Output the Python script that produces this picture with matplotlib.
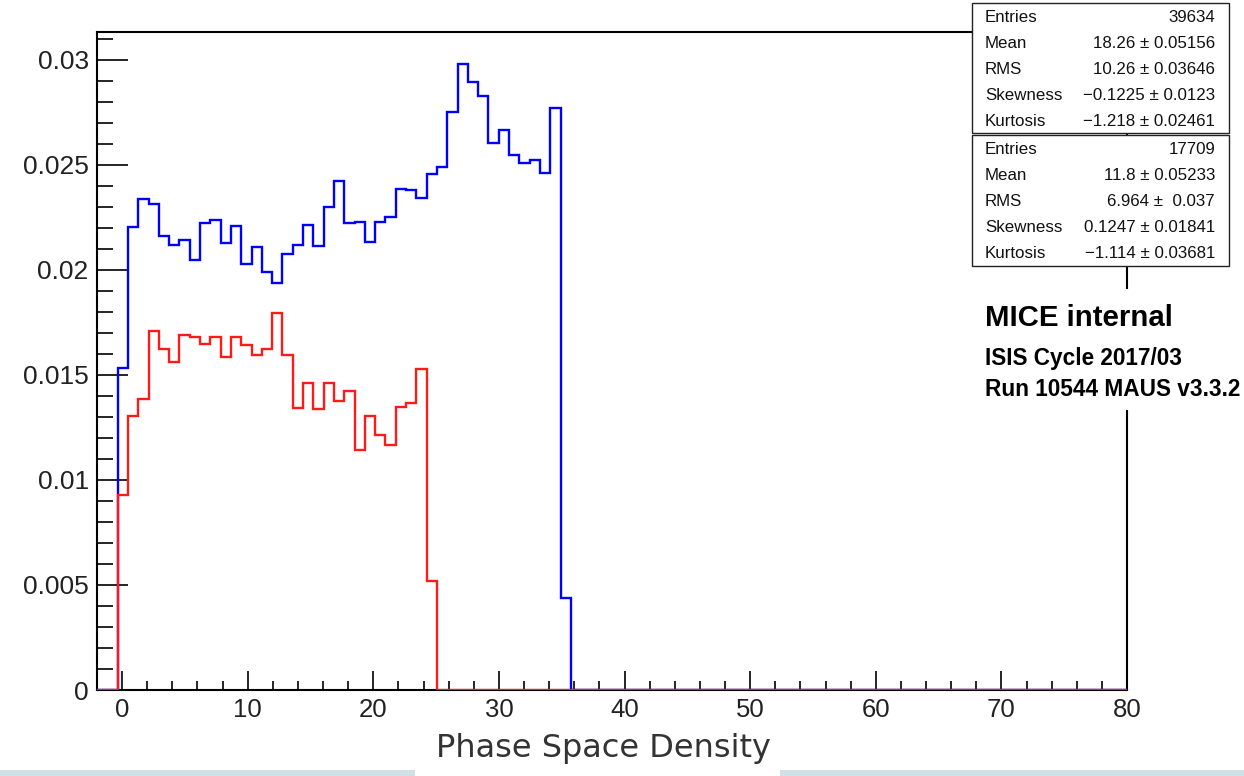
import numpy as np
import matplotlib
matplotlib.use("Agg")
import matplotlib.pyplot as plt
from matplotlib.patches import Rectangle
from matplotlib.ticker import MultipleLocator, FuncFormatter

# Histogram binning (100 bins over the axis range)
x_min, x_max, n_bins = -2.0, 80.0, 100
first_bin = 2  # index of the first filled bin

# Normalised bin contents, starting at bin `first_bin`
upstream = [
    0.01532, 0.02201, 0.02338, 0.02313, 0.02159, 0.02119, 0.02140, 0.02044,
    0.02222, 0.02236, 0.02125, 0.02206, 0.02027, 0.02110, 0.01989, 0.01937,
    0.02076, 0.02119, 0.02213, 0.02114, 0.02297, 0.02422, 0.02224, 0.02225,
    0.02132, 0.02229, 0.02252, 0.02386, 0.02379, 0.02343, 0.02456, 0.02490,
    0.02752, 0.02979, 0.02892, 0.02825, 0.02605, 0.02667, 0.02548, 0.02506,
    0.02522, 0.02460, 0.02767, 0.00436,
]
downstream = [
    0.00929, 0.01302, 0.01386, 0.01710, 0.01622, 0.01560, 0.01689, 0.01679,
    0.01648, 0.01678, 0.01584, 0.01679, 0.01640, 0.01594, 0.01622, 0.01792,
    0.01594, 0.01344, 0.01460, 0.01338, 0.01460, 0.01376, 0.01421, 0.01140,
    0.01305, 0.01213, 0.01165, 0.01346, 0.01368, 0.01527, 0.00519,
]

stats_up = [("Entries", "39634"), ("Mean", "18.26 \u00b1 0.05156"),
            ("RMS", "10.26 \u00b1 0.03646"),
            ("Skewness", "\u22120.1225 \u00b1 0.0123"),
            ("Kurtosis", "\u22121.218 \u00b1 0.02461")]
stats_down = [("Entries", "17709"), ("Mean", "11.8 \u00b1 0.05233"),
              ("RMS", "6.964 \u00b1  0.037"),
              ("Skewness", "0.1247 \u00b1 0.01841"),
              ("Kurtosis", "\u22121.114 \u00b1 0.03681")]

x_title = "Phase Space Density"
label_lines = ["MICE internal", "ISIS Cycle 2017/03", "Run 10544 MAUS v3.3.2"]

W, H = 1244, 776
fig = plt.figure(figsize=(W / 100, H / 100), dpi=100)
fig.patch.set_facecolor("white")


def fx(px):
    return px / W


def fy(py):
    return 1 - py / H


ax = fig.add_axes([fx(97), fy(690), fx(1127) - fx(97), fy(32) - fy(690)])

edges = np.linspace(x_min, x_max, n_bins + 1)


def full_contents(vals):
    c = np.zeros(n_bins)
    c[first_bin:first_bin + len(vals)] = vals
    return c


ax.stairs(full_contents(upstream), edges, color="#0000ff", lw=1.7, zorder=3)
ax.stairs(full_contents(downstream), edges, color="#ff1a1a", lw=1.7, zorder=4)

ax.set_xlim(x_min, x_max)
ax.set_ylim(0, 0.03131)

ax.xaxis.set_major_locator(MultipleLocator(10))
ax.xaxis.set_minor_locator(MultipleLocator(2))
ax.yaxis.set_major_locator(MultipleLocator(0.005))
ax.yaxis.set_minor_locator(MultipleLocator(0.001))
ax.yaxis.set_major_formatter(FuncFormatter(
    lambda v, p: "0" if abs(v) < 1e-12 else ("%g" % round(v, 4))))

ax.tick_params(axis="x", which="major", direction="in", length=13.7, width=1.2,
               pad=6, labelsize=18.5, labelcolor="#222222", top=False)
ax.tick_params(axis="x", which="minor", direction="in", length=6.5, width=1.2,
               top=False)
ax.tick_params(axis="y", which="major", direction="in", length=22, width=1.2,
               pad=6, labelsize=19, labelcolor="#222222", right=False)
ax.tick_params(axis="y", which="minor", direction="in", length=11.5, width=1.2,
               right=False)
for lbl in ax.get_xticklabels() + ax.get_yticklabels():
    lbl.set_fontfamily("Liberation Sans")
for s in ax.spines.values():
    s.set_linewidth(1.5)
    s.set_color("black")

fig.text(fx(603), fy(748), x_title, ha="center", va="center",
         fontsize=23, family="DejaVu Sans", color="#333333")


# Statistics boxes
def stats_box(top, bottom, rows, row_y):
    fig.add_artist(Rectangle((fx(972), fy(bottom)), fx(1229) - fx(972),
                             fy(top) - fy(bottom), transform=fig.transFigure,
                             facecolor="white", edgecolor="#222222", lw=1.0,
                             zorder=10))
    for (name, val), y in zip(rows, row_y):
        fig.text(fx(985), fy(y), name, ha="left", va="center", fontsize=12.2,
                 family="Liberation Sans", color="#111111", zorder=11)
        fig.text(fx(1215), fy(y), val, ha="right", va="center", fontsize=12.2,
                 family="Liberation Sans", color="#111111", zorder=11)


stats_box(3, 133, stats_up, [18, 44, 70, 96, 122])
stats_box(135, 266, stats_down, [150, 175, 201, 227, 254])

# Experiment label on a white background
fig.add_artist(Rectangle((fx(978), fy(410)), fx(1244) - fx(978),
                         fy(289) - fy(410), transform=fig.transFigure,
                         facecolor="white", edgecolor="none", zorder=10))
fig.text(fx(985), fy(318), label_lines[0], ha="left", va="center",
         fontsize=21.2, fontweight="bold", family="Liberation Sans", zorder=11)
fig.text(fx(985), fy(358), label_lines[1], ha="left", va="center",
         fontsize=16.3, fontweight="bold", family="Liberation Sans", zorder=11)
fig.text(fx(985), fy(390), label_lines[2], ha="left", va="center",
         fontsize=16.3, fontweight="bold", family="Liberation Sans", zorder=11)

# Window strip along the bottom edge
for x0, x1 in [(0, 415), (780, 1244)]:
    fig.add_artist(Rectangle((fx(x0), 0), fx(x1) - fx(x0), 6 / H,
                             transform=fig.transFigure, facecolor="#cfe0e6",
                             edgecolor="none", zorder=10))

fig.savefig("out.png", dpi=100, facecolor="white")
